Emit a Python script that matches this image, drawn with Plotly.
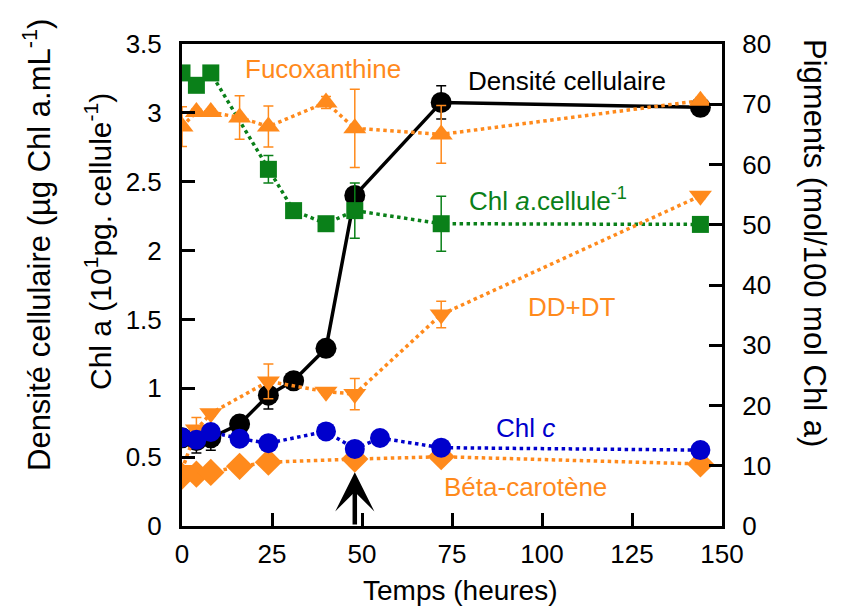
import plotly.graph_objects as go

# ---------------- data ----------------
time_cell = [0, 4, 8, 16, 24, 31, 40, 48, 72, 144]
cell_density = [0.64, 0.62, 0.64, 0.74, 0.95, 1.055, 1.29, 2.40, 3.076, 3.04]
cell_err = [0.04, 0.09, 0.09, 0.03, 0.10, 0.02, 0.02, 0.04, 0.12, 0.02]

time_chla = [0, 4, 8, 24, 31, 40, 48, 72, 144]
chla_cell = [3.29, 3.20, 3.29, 2.59, 2.29, 2.195, 2.29, 2.195, 2.19]
chla_err = [0, 0, 0, 0.10, 0, 0, 0.20, 0.20, 0]

time_fuco = [0, 4, 8, 16, 24, 40, 48, 72, 144]
fucoxanthine = [66.3, 68.7, 68.7, 67.8, 66.3, 70.3, 66.0, 65.0, 70.6]
fuco_err = [3.3, 0.5, 0.5, 3.6, 3.4, 1.0, 6.5, 4.8, 0.5]

time_dd = [0, 4, 8, 24, 40, 48, 72, 144]
dd_dt = [9.3, 16.0, 18.7, 24.0, 22.3, 21.9, 35.1, 54.8]
dd_err = [0.5, 2.0, 0.5, 2.9, 0.5, 2.6, 2.2, 0.5]

time_chlc = [0, 4, 8, 16, 24, 40, 48, 55, 72, 144]
chl_c = [14.7, 14.3, 15.6, 14.5, 13.75, 15.7, 12.8, 14.6, 13.0, 12.6]

time_bcar = [0, 4, 8, 16, 24, 48, 72, 144]
beta_carotene = [8.3, 8.6, 8.9, 9.9, 10.6, 11.1, 11.5, 10.3]

x_ticks = [0, 25, 50, 75, 100, 125, 150]
y_left_ticks = [0, 0.5, 1, 1.5, 2, 2.5, 3, 3.5]
y_left_labels = ["0", "0.5", "1", "1.5", "2", "2.5", "3", "3.5"]
y_right_ticks = [0, 10, 20, 30, 40, 50, 60, 70, 80]

# ---------------- style ----------------
ORANGE = "#FF8A1C"
GREEN = "#0A8019"
BLUE = "#0000CC"
BLACK = "#000000"
FONT = "Liberation Sans, Arial, sans-serif"

fig = go.Figure()

def err(vals, color):
    return dict(type="data", array=vals, visible=True, color=color, thickness=1.5, width=5)

# Left-axis series
fig.add_trace(go.Scatter(
    x=time_cell, y=cell_density, mode="lines+markers",
    line=dict(color=BLACK, width=3.5),
    marker=dict(symbol="circle", size=21, color=BLACK),
    error_y=err(cell_err, BLACK), showlegend=False))

fig.add_trace(go.Scatter(
    x=time_chla, y=chla_cell, mode="lines+markers",
    line=dict(color=GREEN, width=3.5, dash="dot"),
    marker=dict(symbol="square", size=17, color=GREEN),
    error_y=err(chla_err, GREEN), showlegend=False))

# Right-axis series
fig.add_trace(go.Scatter(
    x=time_fuco, y=fucoxanthine, yaxis="y2", mode="lines+markers",
    line=dict(color=ORANGE, width=3.5, dash="dot"),
    marker=dict(symbol="triangle-up", size=20, color=ORANGE),
    error_y=err(fuco_err, ORANGE), showlegend=False))

fig.add_trace(go.Scatter(
    x=time_dd, y=dd_dt, yaxis="y2", mode="lines+markers",
    line=dict(color=ORANGE, width=3.5, dash="dot"),
    marker=dict(symbol="triangle-down", size=20, color=ORANGE),
    error_y=err(dd_err, ORANGE), showlegend=False))

fig.add_trace(go.Scatter(
    x=time_bcar, y=beta_carotene, yaxis="y2", mode="lines+markers",
    line=dict(color=ORANGE, width=3.5, dash="dot"),
    marker=dict(symbol="diamond", size=21, color=ORANGE),
    showlegend=False))

fig.add_trace(go.Scatter(
    x=time_chlc, y=chl_c, yaxis="y2", mode="lines+markers",
    line=dict(color=BLUE, width=3.5, dash="dot"),
    marker=dict(symbol="circle", size=20, color=BLUE),
    showlegend=False))

# ---------------- annotations ----------------
ann = []
def label(text, x, y, color, size=26):
    ann.append(dict(text=text, x=x, y=y, xref="x", yref="y", showarrow=False,
                    font=dict(color=color, size=size, family=FONT),
                    xanchor="center", yanchor="middle"))

label("Fucoxanthine", 39.2, 3.32, ORANGE)
label("Densité cellulaire", 106.9, 3.23, BLACK)
label("Chl <i>a</i>.cellule<sup>-1</sup>", 101.7, 2.37, GREEN)
label("DD+DT", 108.3, 1.587, ORANGE)
label("Chl <i>c</i>", 95.3, 0.713, BLUE)
label("Béta-carotène", 95.3, 0.284, ORANGE)

# arrow at 48 h
ann.append(dict(x=48, y=0.39, ax=48, ay=0, xref="x", yref="y", axref="x", ayref="y",
                text="", showarrow=True, arrowhead=3, arrowsize=1.45, arrowwidth=4.5,
                arrowcolor=BLACK))

# axis titles
PX_L, PX_R, PY_T, PY_B = 182, 722, 44, 526
def px2paper(px, py):
    return (px - PX_L) / (PX_R - PX_L), (PY_B - py) / (PY_B - PY_T)

for text, px, py, ang, size in [
    ("Densité cellulaire (µg Chl a.mL<sup>-1</sup>)", 37, 245, -90, 31),
    ("Chl a (10<sup>1</sup>pg. cellule<sup>-1</sup>)", 98, 242, -90, 30),
    ("Pigments (mol/100 mol Chl a)", 815, 243, 90, 31),
    ("Temps (heures)", 460, 590, 0, 28),
]:
    xp, yp = px2paper(px, py)
    ann.append(dict(text=text, x=xp, y=yp, xref="paper", yref="paper", showarrow=False,
                    textangle=ang, xanchor="center", yanchor="middle",
                    font=dict(size=size, color=BLACK, family=FONT)))

axis_common = dict(showline=True, linecolor=BLACK, linewidth=3, ticks="inside",
                   ticklen=13, tickwidth=3, tickcolor=BLACK, showgrid=False,
                   zeroline=False, tickfont=dict(size=26, color=BLACK, family=FONT))

fig.update_layout(
    width=842, height=609,
    margin=dict(l=PX_L, r=842 - PX_R, t=PY_T, b=609 - PY_B),
    paper_bgcolor="white", plot_bgcolor="white",
    font=dict(family=FONT, color=BLACK),
    xaxis=dict(range=[0, 150], tickvals=x_ticks, mirror=True,
               ticklabelstandoff=3, **axis_common),
    yaxis=dict(range=[0, 3.5], tickvals=y_left_ticks, ticktext=y_left_labels,
               ticklabelstandoff=12, **axis_common),
    yaxis2=dict(range=[0, 80], tickvals=y_right_ticks, overlaying="y", side="right",
                ticklabelstandoff=12, **axis_common),
    annotations=ann,
    showlegend=False,
)

fig.write_html("out.html", config={"displayModeBar": False},
               post_script="document.body.style.margin='0';")
